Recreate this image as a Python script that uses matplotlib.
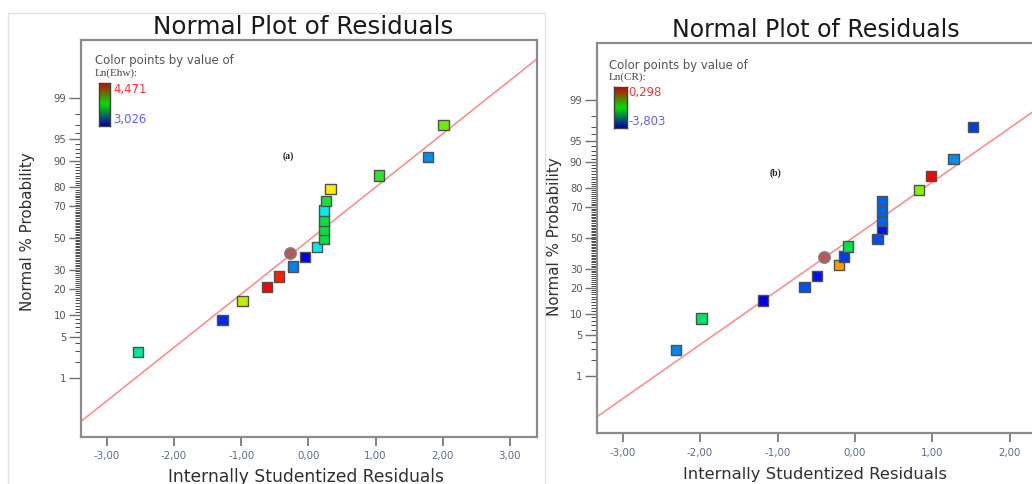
# Normal plots of residuals, panels (a) Ln(Ehw) and (b) Ln(CR)

from statistics import NormalDist

import numpy as np
import matplotlib
matplotlib.use('Agg')
import matplotlib.pyplot as plt
from matplotlib.colors import LinearSegmentedColormap, Normalize
from matplotlib.patches import Rectangle

# ---- data ----
# panel (a): colour by Ln(Ehw)
resid_a = [-2.54, -1.28, -0.98, -0.62, -0.44, -0.23, -0.27, -0.045, 0.13,
           0.23, 0.23, 0.23, 0.23, 0.26, 0.33, 1.05, 1.78, 2.01]
prob_a = [2.9, 8.7, 14.7, 20.9, 26.1, 31.9, 40.1, 37.8, 44.0,
          49.6, 55.6, 61.4, 67.7, 73.2, 79.4, 85.1, 91.1, 97.0]
value_a = [3.546, 3.098, 3.951, 4.471, 4.43, 3.233, 4.25, 3.026, 3.439,
           3.647, 3.647, 3.647, 3.46, 3.676, 4.058, 3.72, 3.257, 3.821]
range_a = (3.026, 4.471)
fit_a = (0.887, -0.043)      # slope, intercept of the reference line (z per residual)
highlight_a = 6

# panel (b): colour by Ln(CR)
resid_b = [-2.31, -1.98, -1.19, -0.65, -0.49, -0.21, -0.40, -0.14, -0.086,
           0.29, 0.345, 0.345, 0.345, 0.345, 0.83, 0.98, 1.27, 1.52]
prob_b = [2.9, 8.7, 14.5, 20.3, 26.1, 32.3, 37.1, 37.8, 44.2,
          49.3, 55.9, 61.4, 67.6, 73.6, 79.1, 85.3, 91.0, 97.0]
value_b = [-3.188, -2.163, -3.803, -3.434, -3.721, -0.276, -0.5, -3.516, -2.081,
           -3.434, -3.721, -3.352, -3.352, -3.352, -1.424, 0.298, -3.147, -3.516]
range_b = (-3.803, 0.298)
fit_b = (0.916, 0.030)
highlight_b = 6

prob_ticks = [1, 5, 10, 20, 30, 50, 70, 80, 90, 95, 99]
x_ticks_a = [-3, -2, -1, 0, 1, 2, 3]
x_ticks_b = [-3, -2, -1, 0, 1, 2]   # 3,00 falls outside the cropped picture

# ---- styling ----
W, H = 1032, 484
nd = NormalDist()

point_cmap = LinearSegmentedColormap.from_list('de', [
    (0.0, '#0000ee'), (0.15, '#0088ee'), (0.29, '#00f0f0'), (0.43, '#00e040'),
    (0.57, '#80f000'), (0.71, '#ffee00'), (0.86, '#ffa000'), (1.0, '#ff0000')])
bar_cmap = LinearSegmentedColormap.from_list('bar', [
    (0.0, '#0000b0'), (0.5, '#00e000'), (1.0, '#d00000')])


def to_z(p):
    return np.array([nd.inv_cdf(v / 100.0) for v in p])


def rect(left, top, right, bottom):
    return [left / W, 1 - bottom / H, (right - left) / W, (bottom - top) / H]


def comma(v, nd_=2):
    return f'{v:.{nd_}f}'.replace('.', ',')


def draw_panel(ax, resid, prob, value, vrange, fit, hl, xlim, xticks,
               ln_label, tag, tag_xy, leg):
    z = to_z(prob)
    norm = Normalize(*vrange)
    idx = [i for i in range(len(resid)) if i != hl]

    ax.axline((0, fit[1]), slope=fit[0], color='#ff8f8f', lw=1.2, zorder=2)
    ax.scatter(np.array(resid)[idx], z[idx], c=np.array(value)[idx], cmap=point_cmap,
               norm=norm, marker='s', s=55, edgecolors='#505050', linewidths=1.0, zorder=3)
    ax.scatter([resid[hl]], [z[hl]], marker='o', s=68, color='#b35a5a',
               edgecolors='#808080', linewidths=1.0, zorder=3)

    ax.set_xlim(*xlim)
    ax.set_ylim(-3.30, 3.29)
    ax.set_xticks(xticks)
    ax.set_xticklabels([comma(t) for t in xticks])
    ax.set_yticks(to_z(prob_ticks))
    ax.set_yticklabels([str(p) for p in prob_ticks])
    minor = [p for p in range(1, 100) if p not in prob_ticks]
    ax.set_yticks(to_z(minor), minor=True)

    for s in ax.spines.values():
        s.set_color('#8c8c8c')
        s.set_linewidth(1.6)
    ax.tick_params(axis='x', direction='out', length=6.5, width=1.2, color='#707070',
                   labelsize=7.4, labelcolor='#5f6b85', pad=4)
    ax.tick_params(axis='y', which='major', direction='out', length=8.5, width=1.0,
                   color='#707070', labelsize=7.2, labelcolor='#555555', pad=2)
    ax.tick_params(axis='y', which='minor', direction='out', length=4.3, width=0.7,
                   color='#4a4a4a')

    # colour legend
    lx, ly_title, ly_ln, bar, ly_hi, ly_lo, lab_x = leg
    ax.text(lx, ly_title, 'Color points by value of', transform=ax.transAxes,
            fontsize=8.4, color='#555555', va='center', ha='left')
    ax.text(lx, ly_ln, ln_label, transform=ax.transAxes, family='Liberation Serif',
            fontsize=8, color='#444444', va='center', ha='left')
    cax = ax.inset_axes(bar)
    cax.imshow(np.linspace(1, 0, 100)[:, None], aspect='auto', cmap=bar_cmap)
    cax.set_xticks([])
    cax.set_yticks([])
    for s in cax.spines.values():
        s.set_color('#404040')
        s.set_linewidth(1.0)
    ax.text(lab_x, ly_hi, comma(vrange[1], 3), transform=ax.transAxes, fontsize=8.4,
            color='#ff3030', va='center', ha='left')
    ax.text(lab_x, ly_lo, comma(vrange[0], 3), transform=ax.transAxes, fontsize=8.4,
            color='#6060ff', va='center', ha='left')

    ax.text(tag_xy[0], tag_xy[1], tag, transform=ax.transAxes, family='Liberation Serif',
            fontsize=7, fontweight='bold', color='#202020', ha='center', va='center')


fig = plt.figure(figsize=(W / 100, H / 100), dpi=100)

# faint screenshot border around panel (a)
fig.patches.append(Rectangle((7.6 / W, -0.1), (545 - 7.6) / W, 1.1 - 13 / H,
                             transform=fig.transFigure, fill=False,
                             edgecolor='#e2e2e2', lw=1.0))

ax_a = fig.add_axes(rect(80.7, 40, 536.7, 436.7))
ax_b = fig.add_axes(rect(597, 43.3, 597 + 516, 433.3))

draw_panel(ax_a, resid_a, prob_a, value_a, range_a, fit_a, highlight_a,
           (-3.39, 3.40), x_ticks_a, 'Ln(Ehw):', '(a)', (0.456, 0.708),
           (0.031, 0.948, 0.916, [0.040, 0.783, 0.024, 0.109], 0.874, 0.800, 0.071))
draw_panel(ax_b, resid_b, prob_b, value_b, range_b, fit_b, highlight_b,
           (-3.33, 3.33), x_ticks_b, 'Ln(CR):', '(b)', (0.345, 0.667),
           (0.023, 0.944, 0.914, [0.033, 0.784, 0.025, 0.105], 0.874, 0.799, 0.060))

# titles and axis labels (positions in pixels from top-left)
for (x, y), size in [((303, 27), 17.7), ((815.5, 30), 17.0)]:
    fig.text(x / W, 1 - y / H, 'Normal Plot of Residuals', fontsize=size,
             color='#1a1a1a', ha='center', va='center')
for (x, y), size in [((306.5, 477), 12.3), ((815, 475), 11.8)]:
    fig.text(x / W, 1 - y / H, 'Internally Studentized Residuals', fontsize=size,
             color='#303030', ha='center', va='center')
for (x, y) in [(27.6, 232), (555, 237)]:
    fig.text(x / W, 1 - y / H, 'Normal % Probability', fontsize=10.9, rotation=90,
             color='#303030', ha='center', va='center')

fig.savefig('out.png', dpi=100)
